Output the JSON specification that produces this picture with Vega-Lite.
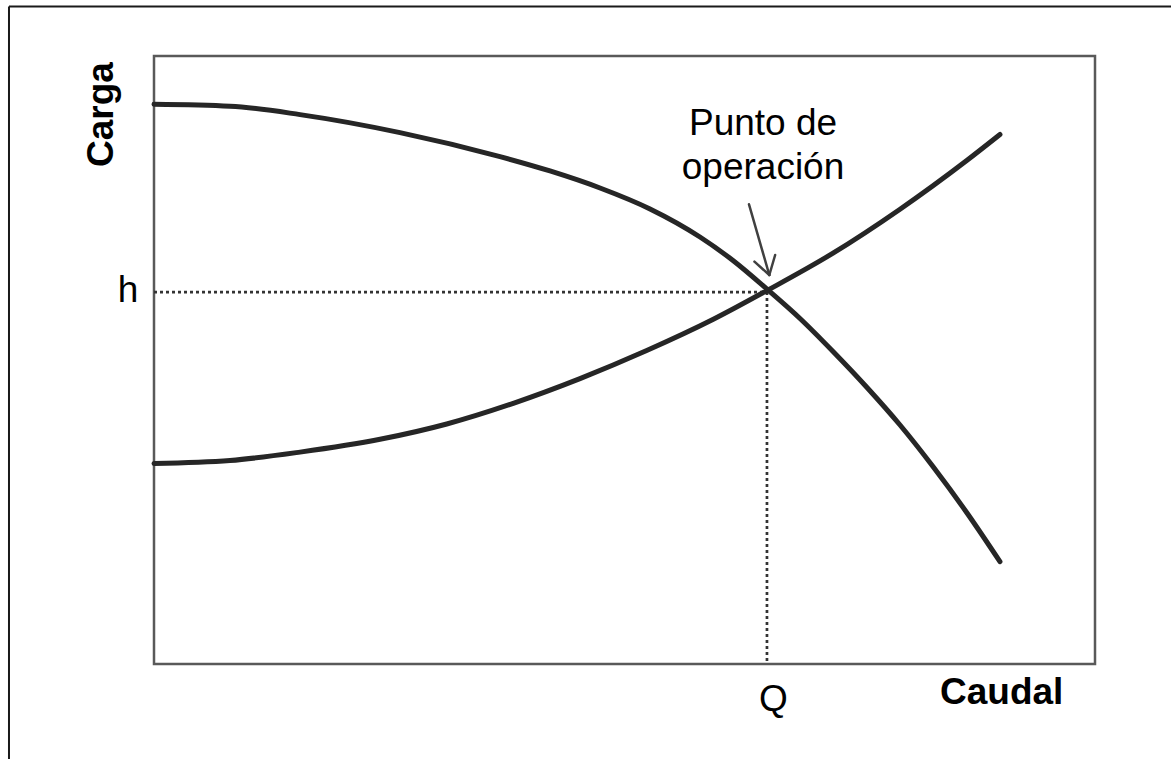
{
  "$schema": "https://vega.github.io/schema/vega-lite/v6.json",
  "width": 941,
  "height": 608,
  "autosize": {"type": "none"},
  "padding": {"left": 154, "top": 56, "right": 76, "bottom": 95},
  "background": "white",
  "config": {
    "view": {"stroke": "#595959", "strokeWidth": 2.5},
    "font": "Liberation Sans"
  },
  "datasets": {
    "curves": [
      {"curve": "bomba", "i": 0, "q": 0, "h": 92.06},
      {"curve": "bomba", "i": 1, "q": 8.08, "h": 91.74},
      {"curve": "bomba", "i": 2, "q": 15.52, "h": 90.36},
      {"curve": "bomba", "i": 3, "q": 26.14, "h": 87.4},
      {"curve": "bomba", "i": 4, "q": 36.77, "h": 83.45},
      {"curve": "bomba", "i": 5, "q": 42.08, "h": 81.09},
      {"curve": "bomba", "i": 6, "q": 47.4, "h": 78.29},
      {"curve": "bomba", "i": 7, "q": 52.71, "h": 74.84},
      {"curve": "bomba", "i": 8, "q": 58.02, "h": 70.23},
      {"curve": "bomba", "i": 9, "q": 61.53, "h": 66.37},
      {"curve": "bomba", "i": 10, "q": 65.25, "h": 61.51},
      {"curve": "bomba", "i": 11, "q": 68.65, "h": 56.83},
      {"curve": "bomba", "i": 12, "q": 72.16, "h": 51.4},
      {"curve": "bomba", "i": 13, "q": 75.77, "h": 45.48},
      {"curve": "bomba", "i": 14, "q": 79.28, "h": 39.31},
      {"curve": "bomba", "i": 15, "q": 82.78, "h": 32.48},
      {"curve": "bomba", "i": 16, "q": 86.4, "h": 24.84},
      {"curve": "bomba", "i": 17, "q": 89.9, "h": 16.84},
      {"curve": "sistema", "i": 0, "q": 0, "h": 32.98},
      {"curve": "sistema", "i": 1, "q": 8.08, "h": 33.47},
      {"curve": "sistema", "i": 2, "q": 15.52, "h": 34.85},
      {"curve": "sistema", "i": 3, "q": 24.02, "h": 36.96},
      {"curve": "sistema", "i": 4, "q": 31.11, "h": 39.48},
      {"curve": "sistema", "i": 5, "q": 38.18, "h": 42.88},
      {"curve": "sistema", "i": 6, "q": 45.27, "h": 46.94},
      {"curve": "sistema", "i": 7, "q": 52.36, "h": 51.55},
      {"curve": "sistema", "i": 8, "q": 59.44, "h": 56.69},
      {"curve": "sistema", "i": 9, "q": 65.25, "h": 61.51},
      {"curve": "sistema", "i": 10, "q": 72.16, "h": 67.57},
      {"curve": "sistema", "i": 11, "q": 79.28, "h": 74.8},
      {"curve": "sistema", "i": 12, "q": 86.37, "h": 82.81},
      {"curve": "sistema", "i": 13, "q": 89.9, "h": 87.09}
    ],
    "guides": [
      {"x1": 0, "y1": 61.18, "x2": 65.14, "y2": 61.18},
      {"x1": 65.14, "y1": 61.18, "x2": 65.14, "y2": 0}
    ],
    "arrow": [
      {"x1": 63.23, "y1": 75.61, "x2": 65.39, "y2": 63.98},
      {"x1": 63.81, "y1": 66.17, "x2": 65.39, "y2": 63.98},
      {"x1": 66.01, "y1": 67.27, "x2": 65.39, "y2": 63.98}
    ],
    "frame": [
      {"x1": -15.41, "y1": 108.14, "x2": 115, "y2": 108.14},
      {"x1": -15.41, "y1": 108.14, "x2": -15.41, "y2": -20}
    ],
    "labels": [
      {"label": "Punto de", "x": 64.72, "y": 87.0},
      {"label": "operación", "x": 64.72, "y": 79.77},
      {"label": "h", "x": -2.76, "y": 59.54},
      {"label": "Q", "x": 65.83, "y": -7.73}
    ],
    "titles": [
      {"label": "Carga", "x": -4.36, "y": 90.38, "angle": 270},
      {"label": "Caudal", "x": 90.08, "y": -6.58, "angle": 0}
    ]
  },
  "layer": [
    {
      "data": {"name": "frame"},
      "mark": {"type": "rule", "color": "#1a1a1a", "strokeWidth": 2},
      "encoding": {
        "x": {"field": "x1", "type": "quantitative", "scale": {"domain": [0, 100]}, "axis": null},
        "y": {"field": "y1", "type": "quantitative", "scale": {"domain": [0, 100]}, "axis": null},
        "x2": {"field": "x2"},
        "y2": {"field": "y2"}
      }
    },
    {
      "data": {"name": "guides"},
      "mark": {"type": "rule", "color": "#333333", "strokeWidth": 2.7, "strokeDash": [3, 3]},
      "encoding": {
        "x": {"field": "x1", "type": "quantitative", "scale": {"domain": [0, 100]}, "axis": null},
        "y": {"field": "y1", "type": "quantitative", "scale": {"domain": [0, 100]}, "axis": null},
        "x2": {"field": "x2"},
        "y2": {"field": "y2"}
      }
    },
    {
      "data": {"name": "curves"},
      "mark": {"type": "line", "color": "#262626", "strokeWidth": 5, "strokeCap": "round", "interpolate": "monotone"},
      "encoding": {
        "x": {"field": "q", "type": "quantitative", "scale": {"domain": [0, 100]}, "axis": null},
        "y": {"field": "h", "type": "quantitative", "scale": {"domain": [0, 100]}, "axis": null},
        "detail": {"field": "curve"},
        "order": {"field": "i", "type": "quantitative"}
      }
    },
    {
      "data": {"name": "arrow"},
      "mark": {"type": "rule", "color": "#404040", "strokeWidth": 2.5, "strokeCap": "round"},
      "encoding": {
        "x": {"field": "x1", "type": "quantitative", "scale": {"domain": [0, 100]}, "axis": null},
        "y": {"field": "y1", "type": "quantitative", "scale": {"domain": [0, 100]}, "axis": null},
        "x2": {"field": "x2"},
        "y2": {"field": "y2"}
      }
    },
    {
      "data": {"name": "labels"},
      "mark": {"type": "text", "fontSize": 37, "color": "#000000", "align": "center", "baseline": "alphabetic"},
      "encoding": {
        "x": {"field": "x", "type": "quantitative", "scale": {"domain": [0, 100]}, "axis": null},
        "y": {"field": "y", "type": "quantitative", "scale": {"domain": [0, 100]}, "axis": null},
        "text": {"field": "label"}
      }
    },
    {
      "data": {"name": "titles"},
      "mark": {"type": "text", "fontSize": 37, "fontWeight": "bold", "color": "#000000", "align": "center", "baseline": "alphabetic"},
      "encoding": {
        "x": {"field": "x", "type": "quantitative", "scale": {"domain": [0, 100]}, "axis": null},
        "y": {"field": "y", "type": "quantitative", "scale": {"domain": [0, 100]}, "axis": null},
        "angle": {"field": "angle", "type": "quantitative", "scale": null},
        "text": {"field": "label"}
      }
    }
  ]
}
